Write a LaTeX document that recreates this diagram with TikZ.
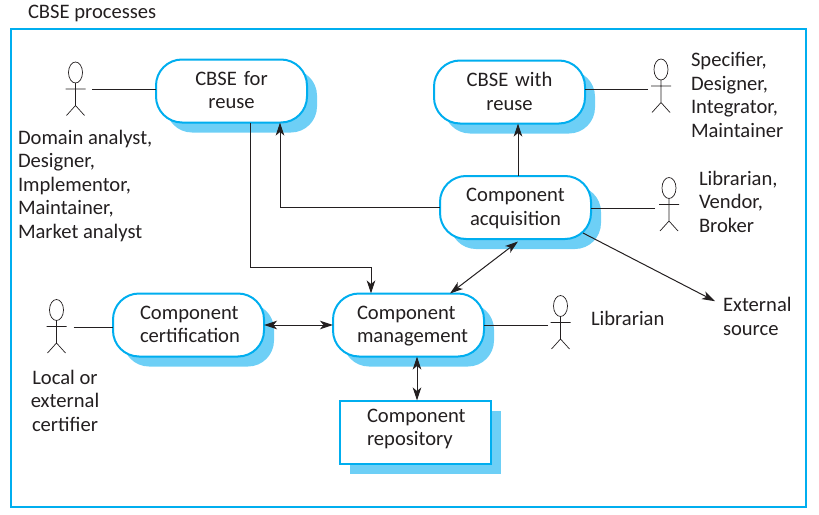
\documentclass[tikz,border=0pt]{standalone}
\usepackage{fontspec}
\setmainfont{Carlito}
\usetikzlibrary{arrows.meta,shadows}
\definecolor{framecyan}{HTML}{00AEEF}
\definecolor{shadowcyan}{HTML}{6DCFF6}
\definecolor{inkblack}{HTML}{231F20}
\tikzset{
  procbox/.style={draw=framecyan, fill=white, line width=2pt, rounded corners=26pt,
    minimum width=151pt, minimum height=63pt, inner sep=0pt, outer sep=0pt,
    text=inkblack, font=\fontsize{20.6}{23.4}\selectfont, text depth=25pt,
    general shadow={fill=shadowcyan, shadow xshift=10pt, shadow yshift=-10pt}},
  storebox/.style={procbox, rounded corners=0pt, text depth=33pt},
  who/.style={inner sep=0pt, outer sep=0pt, align=left, text=inkblack,
    font=\fontsize{20.6}{23.4}\selectfont},
  flow/.style={draw=inkblack, line width=1pt, -{Stealth[length=13pt,width=8.5pt,inset=3.5pt]}},
  bothflow/.style={flow, {Stealth[length=13pt,width=8.5pt,inset=3.5pt]}-{Stealth[length=13pt,width=8.5pt,inset=3.5pt]}},
  actorline/.style={draw=inkblack, line width=1pt},
  actor/.pic={
    \draw[inkblack, line width=0.7pt] (0,0) ellipse [x radius=7, y radius=10.5];
    \draw[inkblack, line width=0.7pt] (0,10.5) -- (0,33) (-10,16.5) -- (10,16.5)
      (-9,43) -- (0,33) -- (9,43);
  }
}
\begin{document}
\begin{tikzpicture}[x=1pt, y=-1pt]
\useasboundingbox (0,0) rectangle (819,514);
\draw[framecyan, line width=2pt] (11,29) rectangle (806,507);
\node[who, anchor=base west] (title) at (28,18) {CBSE processes};
% processes
\node[procbox, align=center, text width=130pt] (forreuse) at (231.5,91) {CBSE for\\reuse};
\node[procbox, align=center, text width=130pt] (withreuse) at (509.5,92) {CBSE with\\reuse};
\node[procbox, align=center, text width=130pt] (acquisition) at (515.5,207.5) {Component\\acquisition};
\node[procbox, align=left, text width=97pt] (certification) at (188.5,325) {Component\\certification};
\node[procbox, align=left, text width=103pt] (management) at (408.5,325) {Component\\management};
\node[storebox, align=left, text width=96pt] (repository) at (415,432) {Component\\repository};
% people
\pic at (75.5,72.5) {actor};
\pic at (661,69.5) {actor};
\pic at (669,188) {actor};
\pic at (56.5,310) {actor};
\pic at (560.5,306) {actor};
\node[who, anchor=base west] (domainwho) at (18,238) {Domain analyst,\\Designer,\\Implementor,\\Maintainer,\\Market analyst};
\node[who, anchor=base west] (specifierwho) at (691,137) {Specifier,\\Designer,\\Integrator,\\Maintainer};
\node[who, anchor=base west] (librarianwho) at (699,232) {Librarian,\\Vendor,\\Broker};
\node[who, anchor=base west] (repowho) at (591,325) {Librarian};
\node[who, anchor=base, align=center] (certwho) at (65,431) {Local or\\external\\certifier};
\node[who, anchor=base west] (external) at (723,335) {External\\source};
% free ends of the lines to people
\coordinate (domainend) at (92,89);
\coordinate (specifierend) at (648,89);
\coordinate (librarianend) at (655,208);
\coordinate (certend) at (73.5,327);
\coordinate (repoend) at (548,325);
\draw[actorline] (domainend) -- (forreuse.west |- domainend);
\draw[actorline] (specifierend) -- (withreuse.east |- specifierend);
\draw[actorline] (librarianend) -- (acquisition.east |- librarianend);
\draw[actorline] (certend) -- (certification.west |- certend);
\draw[actorline] (repoend) -- (management.east |- repoend);
% flows
\draw[flow] ([xshift=18.5pt]forreuse.south) |- (371,267) -- ([xshift=-37.5pt]management.north);
\draw[flow] (acquisition.west) -| ([xshift=48.5pt]forreuse.south);
\draw[flow] ([xshift=2.5pt]acquisition.north) -- ([xshift=8.5pt]withreuse.south);
\draw[bothflow] ([xshift=2.5pt,yshift=-2.5pt]acquisition.south) -- ([xshift=41.5pt]management.north);
\draw[flow] ([xshift=67.5pt,yshift=-25.5pt]acquisition.center) -- ([xshift=-8pt,yshift=15pt]external.west);
\draw[bothflow] (certification.east) -- (management.west);
\draw[bothflow] ([xshift=8.5pt]management.south) -- ([xshift=2pt]repository.north);
\end{tikzpicture}
\end{document}
